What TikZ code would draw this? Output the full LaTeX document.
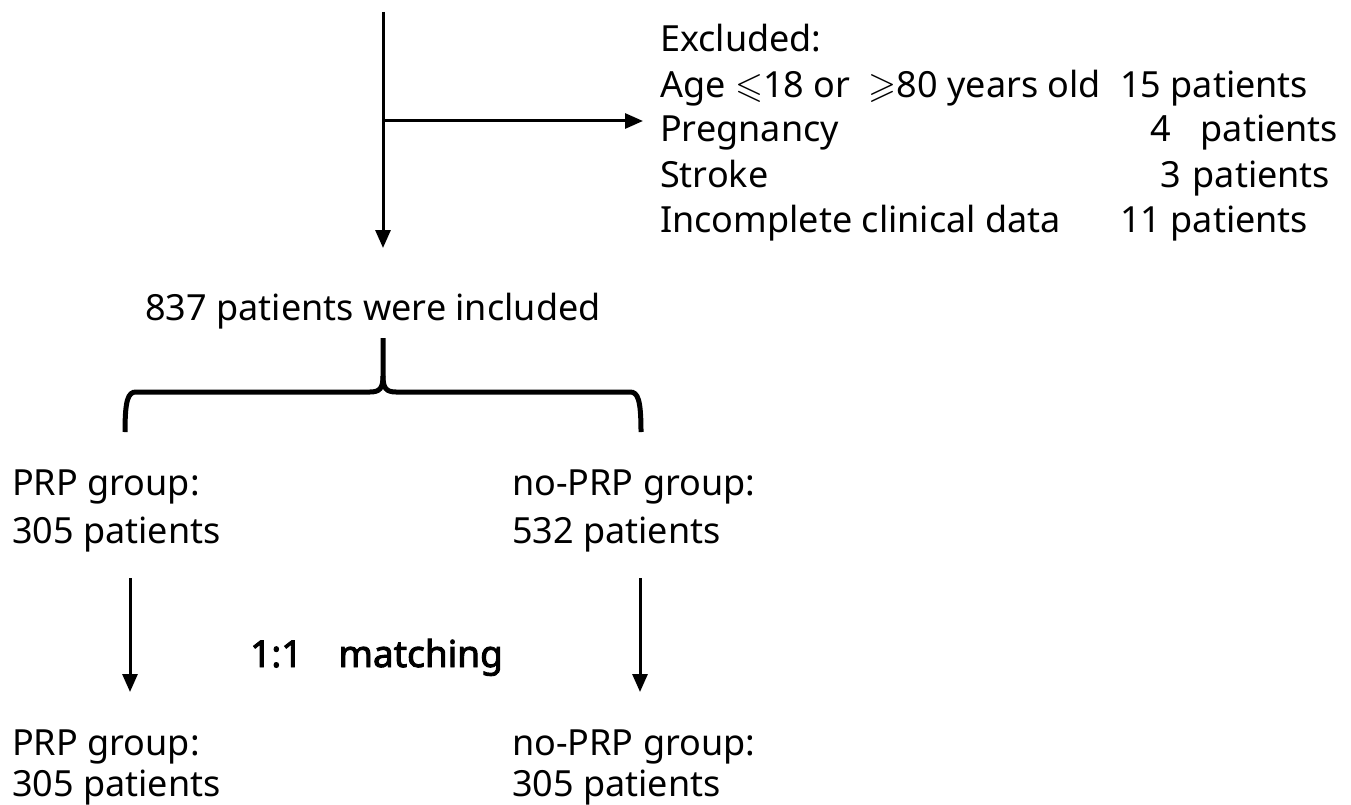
\documentclass[tikz,border=0pt]{standalone}
\usepackage{amssymb}
\usepackage{fontspec}
\setmainfont{Noto Sans}[AutoFakeBold=2.5]
\usetikzlibrary{arrows.meta}

\begin{document}
\begin{tikzpicture}[x=1pt,y=-1pt,font=\fontsize{36}{44}\selectfont]
        \tikzstyle{every node}+=[inner sep=0pt]
        \tikzstyle{flow}=[black, line width=3pt, -{Triangle[width=15pt,length=18pt]}]
        \tikzstyle{brace}=[black, line width=5pt]
        \tikzstyle{txt}=[anchor=base west]
        \useasboundingbox (0,0) rectangle (1351,805);
        % exclusion branch
        \coordinate (top) at (383,12);
        \coordinate (split) at (383,121);
        \coordinate (down) at (383,248);
        \coordinate (excl) at (643,121);
        \node [txt] (ex0) at (660,52) {Excluded:};
        \node [txt] (ex1) at (660,98) {Age $\leqslant$18 or \ $\geqslant$80 years old};
        \node [txt] (ex2) at (660,142) {Pregnancy};
        \node [txt] (ex3) at (660,187) {Stroke};
        \node [txt] (ex4) at (660,232) {Incomplete clinical data};
        \node [txt] (n1) at (1120,98) {15 patients};
        \node [txt] (n2) at (1150,142) {4\hspace{30pt}patients};
        \node [txt] (n3) at (1160,187) {3\hspace{12pt}patients};
        \node [txt] (n4) at (1120,232) {11 patients};
        \draw [flow] (top) -- (down);
        \draw [flow] (split) -- (excl);
        % included
        \node [anchor=base] (incl) at (373,320) {837 patients were included};
        \coordinate (mid) at (383,338);
        \coordinate (bl) at (125,432);
        \coordinate (br) at (641,432);
        \draw [brace] (mid) -- (383,376) .. controls (383,388) and (380,392) .. (370,392)
            -- (136,392) .. controls (128,392) and (125,400) .. (bl);
        \draw [brace] (383,376) .. controls (383,388) and (386,392) .. (396,392)
            -- (630,392) .. controls (638,392) and (641,400) .. (br);
        % groups before matching
        \node [txt] (prp1) at (12,495) {PRP group:};
        \node [txt] (prp1n) at (12,543) {305 patients};
        \node [txt] (nop1) at (512,495) {no-PRP group:};
        \node [txt] (nop1n) at (512,543) {532 patients};
        \coordinate (la) at (130,578);
        \coordinate (lb) at (130,692);
        \coordinate (ra) at (640,578);
        \coordinate (rb) at (640,692);
        \draw [flow] (la) -- (lb);
        \draw [flow] (ra) -- (rb);
        \node [txt, font=\fontsize{37}{44}\selectfont\bfseries] (match) at (250,667) {1:1\hspace{36pt}matching};
        % groups after matching
        \node [txt] (prp2) at (12,755) {PRP group:};
        \node [txt] (prp2n) at (12,796) {305 patients};
        \node [txt] (nop2) at (512,755) {no-PRP group:};
        \node [txt] (nop2n) at (512,796) {305 patients};
\end{tikzpicture}
\end{document}
